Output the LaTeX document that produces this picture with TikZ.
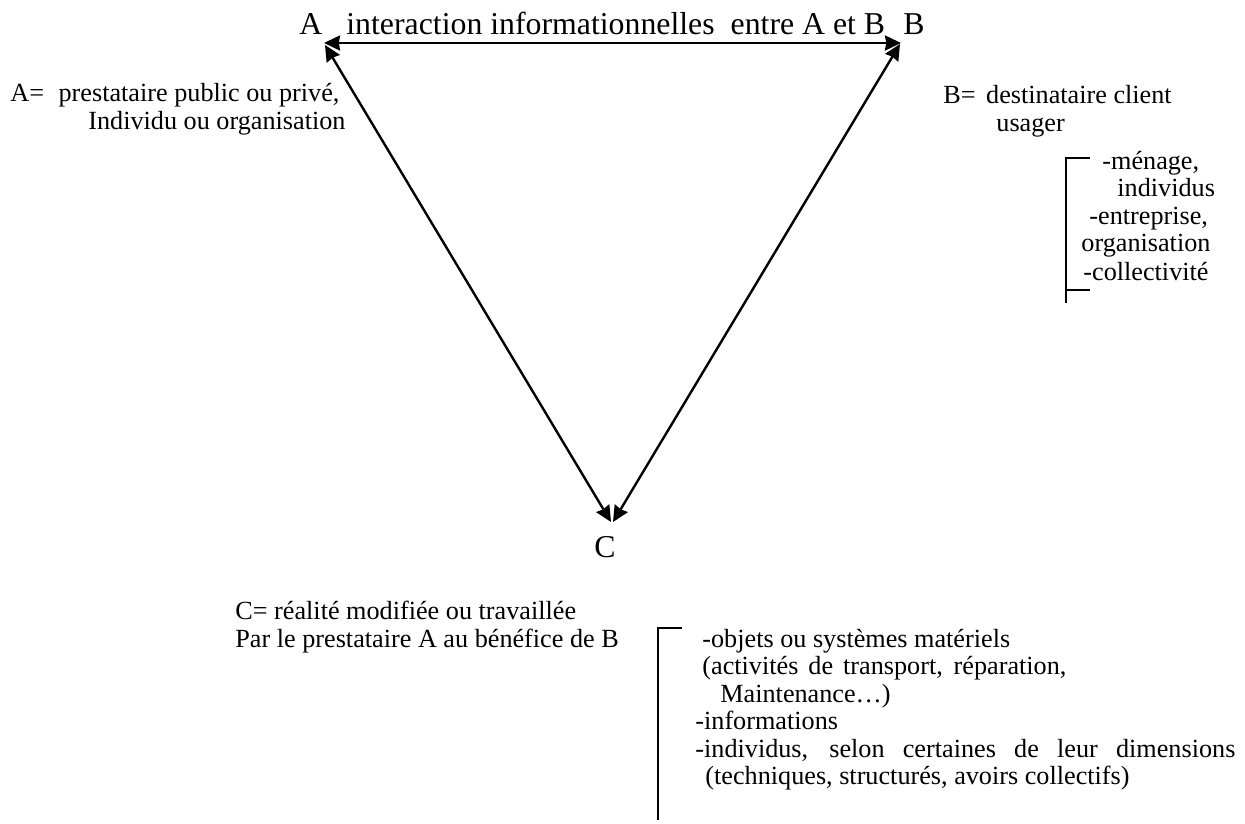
\documentclass[tikz,border=0pt]{standalone}
\usepackage{fontspec}
\setmainfont{Liberation Serif}
\usetikzlibrary{arrows.meta,calc}
\begin{document}
\begin{tikzpicture}[x=0.5pt,y=-0.5pt,
  big/.style={inner sep=0pt, anchor=base west, font=\fontsize{15.9}{18}\selectfont},
  small/.style={inner sep=0pt, anchor=base west, font=\fontsize{13.1}{15}\selectfont},
  tip/.tip={Stealth[length=8pt,width=7.5pt,inset=0.6pt]},
  link/.style={line width=1.2pt, tip-tip},
  bracket/.style={line width=0.9pt}]
\useasboundingbox (0,0) rectangle (1245,823);

% triangle corners
\coordinate (pA) at (324,43);
\coordinate (pB) at (901,43);
\coordinate (pA2) at (325,45);
\coordinate (pB2) at (900,44);
\coordinate (pCl) at (611,522);
\coordinate (pCr) at (613,522);

% corner labels
\node[big] (lA) at (299,35) {A};
\node[big] (lB) at (903,35) {B};
\node[big] (lC) at (594,557) {C};
\node[big] (lAB) at (346,35) {interaction informationnelles\hspace{4pt} entre A et B};

% the three two-way links
\draw[link] (pA) -- (pB);
\draw[link] (pA2) -- (pCl);
\draw[link] (pB2) -- (pCr);

% A description
\node[small] (dA1) at (10,102) {A=\hspace{4pt} prestataire public ou privé,};
\node[small] (dA2) at (88,129.5) {Individu ou organisation};

% B description
\node[small] (dB1) at (943,104) {B=\hspace{2pt} destinataire client};
\node[small] (dB2) at (996,132) {usager};
\node[small] (dB3) at (1102,170) {-ménage,};
\node[small] (dB4) at (1117,197) {individus};
\node[small] (dB5) at (1089,225) {-entreprise,};
\node[small] (dB6) at (1081,252) {organisation};
\node[small] (dB7) at (1083,280) {-collectivité};
\coordinate (bT) at (1066,158);
\coordinate (bB) at (1066,303);
\coordinate (bM) at (1066,290);
\draw[bracket] ($(bT)+(24,0)$) -- (bT) -- (bB);
\draw[bracket] (bM) -- ++(24,0);

% C description
\node[small] (dC1) at (235,619) {C= réalité modifiée ou travaillée};
\node[small] (dC2) at (235,647) {Par le prestataire A au bénéfice de B};
\node[small] (dC3) at (702,647) {-objets ou systèmes matériels};
\node[small] (dC4) at (702,674) {\makebox[182pt][s]{(activités de transport, réparation,}};
\node[small] (dC5) at (720,702) {Maintenance…)};
\node[small] (dC6) at (695,729) {-informations};
\node[small] (dC7) at (695,757) {\makebox[270pt][s]{-individus, selon certaines de leur dimensions}};
\node[small] (dC8) at (705,784) {(techniques, structurés, avoirs collectifs)};
\coordinate (cT) at (658,628);
\coordinate (cB) at (658,820);
\draw[bracket] ($(cT)+(24,0)$) -- (cT) -- (cB);
\end{tikzpicture}
\end{document}
